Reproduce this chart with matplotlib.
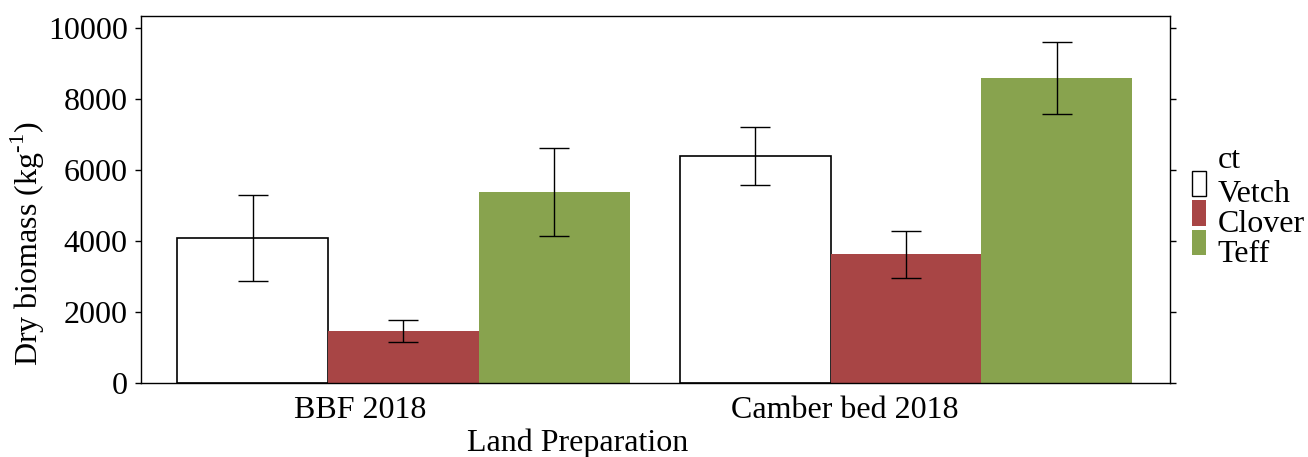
import matplotlib
matplotlib.use("Agg")
import matplotlib.pyplot as plt
from matplotlib.patches import Patch, Rectangle
from matplotlib.legend_handler import HandlerPatch
import numpy as np

# Data
land_prep = ["BBF 2018", "Camber bed 2018"]
crops = ["Vetch", "Clover", "Teff"]
vetch = [4090, 6395]
clover = [1460, 3625]
teff = [5385, 8592]
vetch_err = [1207, 822]
clover_err = [304, 658]
teff_err = [1240, 1015]
label_shift = [-0.086, -0.122]   # tick-label offsets from group centres
yticks = [0, 2000, 4000, 6000, 8000, 10000]

face = ["white", "#A84545", "#88A34E"]
edge = ["black", "none", "none"]

plt.rcParams["font.family"] = ["Liberation Serif", "DejaVu Serif"]
plt.rcParams["mathtext.fontset"] = "custom"
plt.rcParams["mathtext.rm"] = "Liberation Serif"
FS = 23

fig = plt.figure(figsize=(13.08, 4.57), dpi=100)
ax = fig.add_axes([0.1078, 0.1619, 0.7867, 0.8020])

x = np.arange(len(land_prep))
w = 0.3
series = [vetch, clover, teff]
errs = [vetch_err, clover_err, teff_err]
for i, (vals, err) in enumerate(zip(series, errs)):
    pos = x + (i - 1) * w
    ax.bar(pos, vals, width=w, color=face[i], edgecolor=edge[i],
           linewidth=1.2 if edge[i] != "none" else 0, zorder=2)
    ax.errorbar(pos, vals, yerr=err, fmt="none", ecolor="black",
                elinewidth=1.0, capsize=11, capthick=1.0, zorder=3)

ax.set_xlim(-0.522, 1.525)
ax.set_ylim(0, 10330)
ax.set_yticks(yticks)
ax.set_yticklabels([str(v) for v in yticks], fontsize=FS)
ax.set_xticks(x + np.array(label_shift))
ax.set_xticklabels(land_prep, fontsize=FS)
ax.tick_params(axis="x", length=0, pad=9)
ax.tick_params(axis="y", direction="out", length=4, width=1, pad=5.5,
               right=True, labelright=False)
for s in ax.spines.values():
    s.set_linewidth(1.0)
    s.set_color("black")

ax.set_xlabel("Land Preparation", fontsize=FS)
ax.xaxis.set_label_coords(0.424, -0.125)
ax.set_ylabel(r"Dry biomass (kg$^{\text{-}1}$)", fontsize=FS)
ax.yaxis.set_label_coords(-0.091, 0.38)


def raised_box(legend, orig_handle, xdescent, ydescent, width, height, fontsize):
    # key box sits a little above the label baseline
    return Rectangle((-xdescent, -ydescent + 5.5), width, height)


handles = [Patch(facecolor=face[i],
                 edgecolor="black" if edge[i] != "none" else face[i],
                 linewidth=1 if edge[i] != "none" else 0, label=crops[i])
           for i in range(3)]
fig.legend(handles=handles, loc="upper left",
           bbox_to_anchor=(1192 / 1308, 1 - 178.5 / 457),
           handler_map={Patch: HandlerPatch(patch_func=raised_box)},
           frameon=False, fontsize=FS, handlelength=0.43, handleheight=0.845,
           handletextpad=0.376, labelspacing=-0.035, borderpad=0,
           borderaxespad=0)
fig.text(1218 / 1308, 1 - 168 / 457, "ct", fontsize=FS, va="baseline", ha="left")

fig.savefig("out.png", dpi=100)
